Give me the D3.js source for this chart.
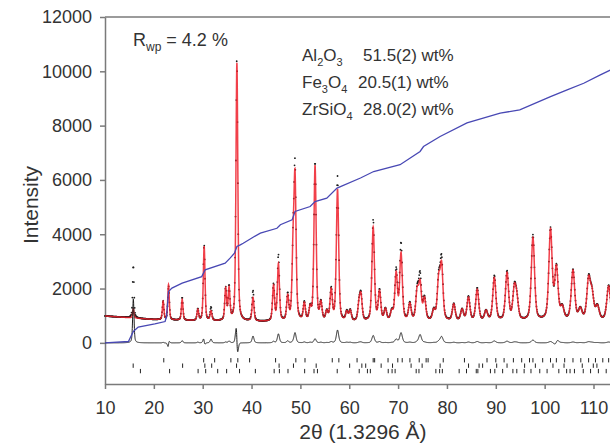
<!DOCTYPE html>
<html>
<head>
<meta charset="utf-8">
<script src="https://cdn.jsdelivr.net/npm/d3@7"></script>
<style>
  body { margin: 0; background: #fff; }
  svg text { font-family: Arial, "Liberation Sans", sans-serif; fill: #333; }
</style>
</head>
<body>
<script>
"use strict";

// background (2theta, counts)
const bgPos = [10, 20, 30, 40, 50, 60, 70, 80, 90, 100, 110, 120];
const bgVal = [990, 860, 810, 790, 770, 770, 780, 790, 800, 810, 820, 820];

// reflections: position, calculated top, observed top (counts)
const peakPos = [15.8, 21.9, 23.0, 25.8, 29.0, 30.3, 31.7, 34.7, 35.4, 37.0, 40.3, 44.5, 45.5, 47.4, 48.5, 48.9,
  50.8, 52.0, 53.0, 54.2, 55.4, 56.3, 57.6, 59.5, 60.2, 62.0, 62.4, 64.9, 66.2, 67.4, 68.7, 69.6, 70.6, 72.4,
  73.9, 74.5, 75.4, 77.3, 78.3, 78.9, 81.4, 83.1, 84.4, 86.2, 88.0, 89.7, 92.3, 93.8, 94.3, 97.6, 101.2, 102.4,
  103.6, 105.8, 107.3, 109.0, 109.7, 110.8, 113.1, 116.5];
const calcTop = [1250, 1520, 2140, 1600, 1215, 3550, 1150, 1950, 1950, 10300, 1650, 2070, 2870, 1650, 3050, 5820,
  1400, 1200, 6490, 1400, 1100, 1890, 5630, 1100, 1150, 1340, 1650, 4230, 1840, 1200, 1100, 2500, 3240, 1400,
  1830, 2100, 1580, 1150, 2200, 2760, 1400, 1200, 1650, 1950, 1150, 2380, 2540, 1890, 1500, 3850, 4100, 2690,
  1250, 2630, 1200, 2260, 1700, 1300, 2070, 2000];
const obsTop = [2870, 1540, 2080, 1680, 1240, 3620, 1290, 1980, 2020, 10450, 1900, 2120, 3200, 1720, 3080, 6190,
  1430, 1220, 6640, 1420, 1110, 1930, 6100, 1120, 1170, 1360, 1680, 4500, 1880, 1210, 1110, 2630, 3610, 1420,
  1860, 2400, 1600, 1160, 2250, 2990, 1420, 1210, 1680, 2000, 1160, 2450, 2600, 1920, 1520, 3950, 4150, 2720,
  1260, 2660, 1210, 2300, 1720, 1310, 2100, 2030];
const obsShift = [0, 0, 0.02, 0, 0, -0.01, 0, 0, 0, -0.015, 0, 0, 0, 0, 0, 0,
  0, 0, 0, 0, 0, 0, 0, 0, 0, 0, 0, 0, 0, 0, 0, 0, 0, 0,
  0, 0, 0, 0, 0, 0, 0, 0, 0, 0, 0, 0, 0, 0, 0, 0, 0, 0.02,
  0, 0, 0, 0, 0, 0, 0, 0];

// cumulative curve (blue)
const cumX = [10, 14.8, 15.8, 16.8, 20.2, 22.3, 22.6, 23.0, 23.7, 25.8, 29.8, 30.5, 34.6, 35.6, 36.5, 37.0, 37.7,
  38.3, 40.4, 41.8, 45.2, 45.9, 48.3, 48.9, 52.0, 53.0, 55.4, 57.5, 62.3, 65.0, 70.4, 74.5, 75.2, 78.6, 84.1,
  90.9, 94.9, 101.2, 104.6, 108.0, 111.4, 113.5, 120];
const cumY = [0, 50, 420, 580, 700, 785, 970, 1890, 2015, 2200, 2440, 2690, 2935, 3120, 3300, 3550, 3610,
  3670, 3900, 4040, 4220, 4350, 4530, 4840, 5020, 5200, 5330, 5700, 6070, 6310, 6560, 7050, 7230, 7600, 8100,
  8460, 8580, 9070, 9320, 9560, 9870, 10050, 10500];

// phase reflection markers
const tickAl = [22.03, 30.2, 32.45, 35.77, 37.19, 39.6, 44.92, 49.07, 50.94, 56.52, 57.87, 61.6, 64.9, 65.2, 67.94,
  69.94, 70.84, 72.42, 74.32, 75.74, 76.14, 79.24, 83.58, 88.2, 90.0, 91.7, 93.6, 95.3, 96.9, 97.6, 99.6, 101.2,
  102.4, 104.1, 105.8, 107.4, 109.0, 110.4, 111.9, 113.1, 115.0, 117.2];
const tickFe = [15.77, 25.89, 30.44, 31.84, 36.93, 45.64, 48.58, 53.23, 60.08, 62.58, 63.37, 66.53, 68.86, 72.66,
  74.92, 78.6, 84.42, 86.58, 87.3, 90.18, 92.3, 95.9, 98.1, 101.7, 103.97, 107.7, 109.96, 110.7, 114.5, 116.2];
const tickZr = [17.25, 23.22, 29.06, 30.61, 33.07, 34.9, 37.54, 40.78, 44.63, 45.7, 47.46, 50.87, 52.79, 53.49,
  57.54, 62.04, 63.72, 64.32, 67.98, 68.77, 69.39, 73.7, 74.27, 77.73, 78.5, 79.06, 82.5, 84.0, 86.0, 86.33, 88.9,
  89.8, 91.4, 93.5, 94.3, 95.8, 97.2, 99.0, 100.5, 102.9, 104.5, 105.2, 106.1, 107.9, 109.4, 111.0, 112.6, 114.2];

const phaseNames = ["Al2O3", "Fe3O4", "ZrSiO4"];
const phaseWt = ["51.5(2) wt%", "20.5(1) wt%", "28.0(2) wt%"];
const xTicks = [10, 20, 30, 40, 50, 60, 70, 80, 90, 100, 110];
const yTicks = [0, 2000, 4000, 6000, 8000, 10000, 12000];

const W = 610, H = 444;
const svg = d3.select("body").append("svg").attr("width", W).attr("height", H);

const x = d3.scaleLinear().domain([10, 120]).range([105, 105 + 110 * 4.885]);
const y = d3.scaleLinear().domain([-1515, 12000]).range([384, 17]);
const bg = d3.scaleLinear().domain(bgPos).range(bgVal);

// peak shape (pseudo-Voigt, unit height)
function width(t) { return 0.3 + 0.0055 * (t - 10) }
function pv(dx, w) {
  const u = (dx / w) * (dx / w);
  return 0.45 / (1 + 4 * u) + 0.55 * Math.exp(-4 * Math.LN2 * u);
}
function profile(t, tops, shift) {
  let s = bg(t);
  for (let i = 0; i < peakPos.length; i++) {
    const p = peakPos[i] + (shift ? shift[i] : 0);
    const dx = t - p;
    if (Math.abs(dx) > 6) continue;
    s += (tops[i] - bg(peakPos[i])) * pv(dx, width(peakPos[i]));
  }
  return s;
}

const grid = d3.range(10, 120.001, 0.02);
const calc = grid.map(t => [t, profile(t, calcTop)]);
const obs = grid.map(t => [t, profile(t, obsTop, obsShift)]);
const diff = obs.map((d, i) => [d[0], d[1] - calc[i][1]]);
const obsDots = obs.filter((d, i) => i % 4 === 0);

const line = d3.line().x(d => x(d[0])).y(d => y(d[1]));

// axes
const axisColor = "#7a7a7a";
const gy = svg.append("g").attr("transform", "translate(105,0)")
  .call(d3.axisLeft(y).tickValues(yTicks).tickFormat(d3.format("d"))
    .tickSize(5).tickPadding(8).tickSizeOuter(0));
const gx = svg.append("g").attr("transform", "translate(0,384)")
  .call(d3.axisBottom(x).tickValues(xTicks).tickFormat(d3.format("d"))
    .tickSize(5).tickPadding(12).tickSizeOuter(0));
[gx, gy].forEach(g => {
  g.selectAll("path,line").attr("stroke", axisColor).attr("stroke-width", 1.5);
  g.selectAll("text").style("font-size", "18px").attr("fill", "#333");
});
svg.append("line").attr("x1", x(10)).attr("x2", x(120)).attr("y1", y(12000)).attr("y2", y(12000))
  .attr("stroke", axisColor).attr("stroke-width", 1.5);

// observed points
svg.append("g").selectAll("circle").data(obsDots).join("circle")
  .attr("cx", d => x(d[0])).attr("cy", d => y(d[1])).attr("r", 0.9).attr("fill", "#1c1c1c");

// calculated
svg.append("path").datum(calc).attr("d", line)
  .attr("fill", "none").attr("stroke", "#ee1f2a").attr("stroke-width", 1.5).attr("stroke-opacity", 0.85);

// difference
svg.append("path").datum(diff).attr("d", line)
  .attr("fill", "none").attr("stroke", "#1c1c1c").attr("stroke-width", 1);

// reflection markers
[[tickAl, -560], [tickFe, -760], [tickZr, -960]].forEach(([ticks, v]) => {
  svg.append("g").selectAll("line").data(ticks).join("line")
    .attr("x1", d => x(d)).attr("x2", d => x(d))
    .attr("y1", y(v)).attr("y2", y(v - 160))
    .attr("stroke", "#222").attr("stroke-width", 1);
});

// cumulative
svg.append("path").datum(cumX.map((t, i) => [t, cumY[i]])).attr("d", line)
  .attr("fill", "none").attr("stroke", "#4848b4").attr("stroke-width", 1.3);

// labels
const rwp = svg.append("text").attr("x", 133).attr("y", 46).style("font-size", "18px");
rwp.append("tspan").text("R");
rwp.append("tspan").attr("dy", 5).style("font-size", "12px").text("wp");
rwp.append("tspan").attr("dy", -5).text(" = 4.2 %");

const valueX = [363, 358, 363];
phaseNames.forEach((name, i) => {
  const yy = 61 + i * 27;
  const t = svg.append("text").attr("x", 302).attr("y", yy).style("font-size", "17px");
  let down = false;
  name.match(/[A-Za-z]+|\d+/g).forEach(part => {
    if (/\d/.test(part)) {
      t.append("tspan").attr("dy", 5).style("font-size", "11px").text(part);
      down = true;
    } else {
      t.append("tspan").attr("dy", down ? -5 : 0).text(part);
      down = false;
    }
  });
  svg.append("text").attr("x", valueX[i]).attr("y", yy).style("font-size", "17px").text(phaseWt[i]);
});

svg.append("text").attr("transform", "translate(38,205) rotate(-90)")
  .attr("text-anchor", "middle").style("font-size", "21px").text("Intensity");
svg.append("text").attr("x", 363).attr("y", 439)
  .attr("text-anchor", "middle").style("font-size", "21px").text("2θ (1.3296 Å)");
</script>
</body>
</html>
